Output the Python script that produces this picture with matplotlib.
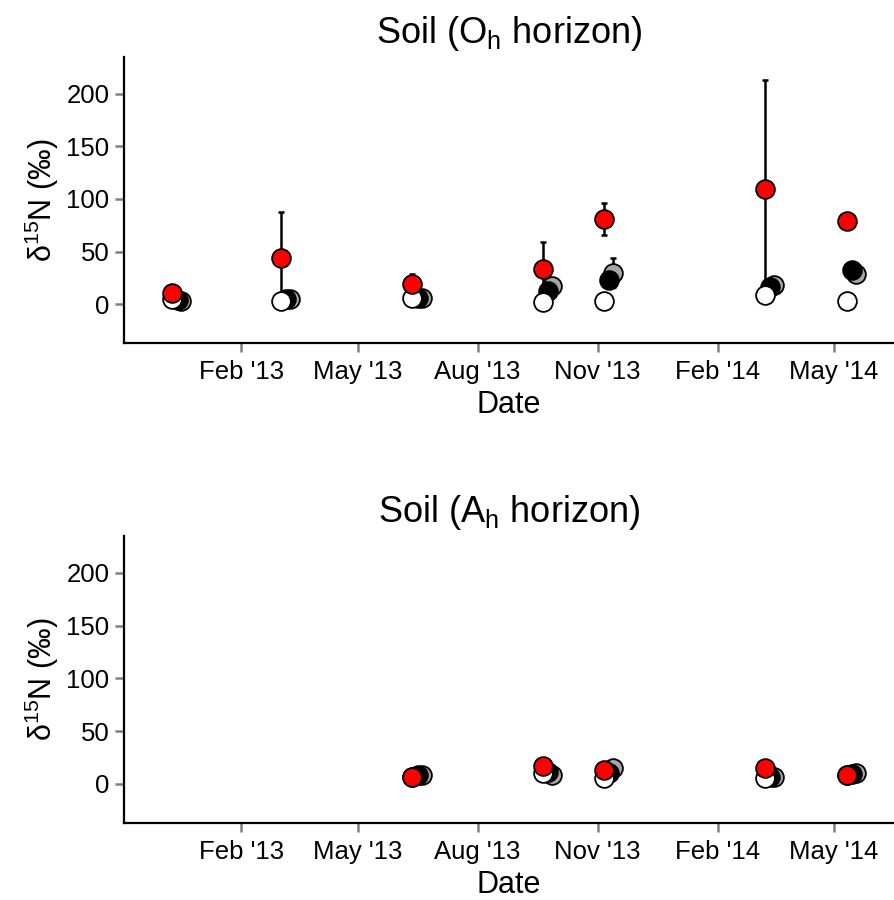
import numpy as np
import pandas as pd
import matplotlib
matplotlib.use("Agg")
import matplotlib.pyplot as plt
import matplotlib.dates as mdates

plt.rcParams['font.family'] = ['Liberation Sans', 'DejaVu Sans']
plt.rcParams['mathtext.fontset'] = 'custom'
plt.rcParams['mathtext.rm'] = 'Liberation Sans'

# --- данные: верхняя панель (O_h) ---
top_dates = pd.to_datetime(["2012-12-10", "2013-03-03", "2013-06-12", "2013-09-20",
                            "2013-11-06", "2014-03-09", "2014-05-11"])
top_white = [5, 3, 6, 2, 3, 9, 3]
top_white_err = [1, 1, 1, 1, 1, 3, 1]
top_black = [4, 5, 6, 12, 23, 16, 32]
top_black_err = [1, 1, 1, 4, 6, 3, 4]
top_gray = [3, 5, 6, 17, 30, 18, 29]
top_gray_err = [1, 1, 1, 4, 14, 3, 4]
top_red = [11, 44, 19, 33, 81, 109, 79]
top_red_err = [2, 44, 10, 26, 15, 104, 5]

# --- данные: нижняя панель (A_h) ---
bot_dates = pd.to_datetime(["2013-06-12", "2013-09-20", "2013-11-06",
                            "2014-03-09", "2014-05-11"])
bot_white = [7, 10, 6, 6, 8]
bot_black = [8, 11, 10, 7, 9]
bot_gray = [8, 8, 15, 7, 10]
bot_red = [7, 17, 13, 15, 8]
bot_err = [1, 1, 1, 1, 1]

# смещение групп по дате (сдвиг точек)
shift = {"white": 0, "red": 0, "black": 4, "gray": 7}
colors = {"white": "white", "black": "black", "gray": "#a6a6a6", "red": "#ff0000"}

fig = plt.figure(figsize=(8.94, 9.0), dpi=100)
ax_top = fig.add_axes([0.1387, 0.6189, 0.8613, 0.3178])
ax_bot = fig.add_axes([0.1387, 0.0856, 0.8613, 0.3189])


def draw(ax, dates, series, title):
    for name, vals, errs in series:
        x = dates + pd.Timedelta(days=shift[name])
        ax.errorbar(x, vals, yerr=errs, fmt='none', ecolor='black',
                    elinewidth=1.8, capsize=2, capthick=1.8, zorder=2)
    for z, (name, vals, errs) in enumerate(series):
        x = dates + pd.Timedelta(days=shift[name])
        ax.plot(x, vals, 'o', ms=13.5, mfc=colors[name], mec='black',
                mew=1.3, zorder=3 + z)
    ax.set_xlim(pd.Timestamp("2012-11-03"), pd.Timestamp("2014-06-16"))
    ax.set_ylim(-37, 235)
    ax.set_yticks([0, 50, 100, 150, 200])
    ax.xaxis.set_major_locator(mdates.MonthLocator(bymonth=[2, 5, 8, 11]))
    ax.xaxis.set_major_formatter(mdates.DateFormatter("%b '%y"))
    for s in ['top', 'right']:
        ax.spines[s].set_visible(False)
    for s in ['left', 'bottom']:
        ax.spines[s].set_linewidth(1.6)
    ax.tick_params(axis='both', length=6.5, width=1.8, color='#7f7f7f',
                   labelsize=18.5, labelcolor='black', pad=4)
    ax.tick_params(axis='x', pad=6)
    ax.set_xlabel("Date", fontsize=22, labelpad=4)
    ax.set_ylabel(r"δ$^{\mathregular{15}}$N (‰)", fontsize=22, labelpad=4)
    ax.set_title(title, fontsize=26, pad=10)


draw(ax_top, top_dates,
     [("gray", top_gray, top_gray_err), ("black", top_black, top_black_err),
      ("white", top_white, top_white_err), ("red", top_red, top_red_err)],
     r"Soil (O$_{\mathregular{h}}$ horizon)")
draw(ax_bot, bot_dates,
     [("gray", bot_gray, bot_err), ("black", bot_black, bot_err),
      ("white", bot_white, bot_err), ("red", bot_red, bot_err)],
     r"Soil (A$_{\mathregular{h}}$ horizon)")

fig.savefig("out.png", dpi=100)
